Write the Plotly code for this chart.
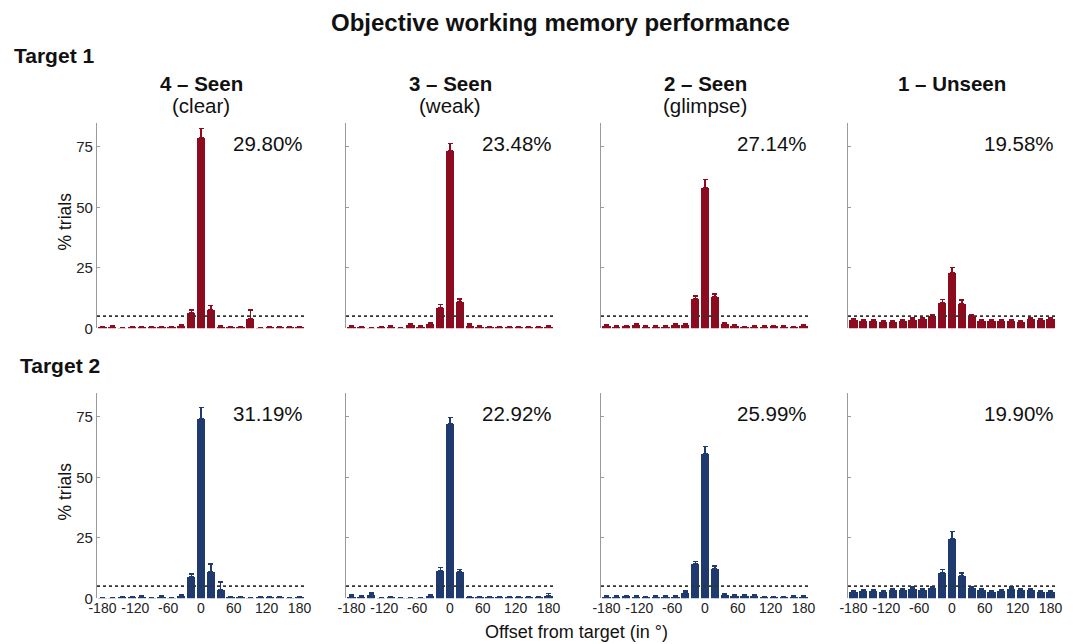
import plotly.graph_objects as go
from plotly.subplots import make_subplots

# ---------------- data ----------------
offsets = [-180, -162, -144, -126, -108, -90, -72, -54, -36, -18, 0,
           18, 36, 54, 72, 90, 108, 126, 144, 162, 180]

conditions = ["4 – Seen", "3 – Seen", "2 – Seen", "1 – Unseen"]
subtitles = ["(clear)", "(weak)", "(glimpse)", ""]
targets = ["Target 1", "Target 2"]

t1_clear = [0.5, 0.6, 0.2, 0.3, 0.5, 0.5, 0.5, 0.3, 1.0, 6.5, 78.9, 7.9, 0.6, 0.4, 0.3, 3.9, 0.2, 0.4, 0.3, 0.4, 0.4]
t1_weak = [0.6, 0.3, 0.2, 0.5, 0.6, 0.2, 1.4, 0.8, 1.8, 8.7, 73.4, 11.0, 1.2, 0.6, 0.3, 0.3, 0.3, 0.3, 0.3, 0.3, 0.6]
t1_glimpse = [1.3, 0.9, 1.0, 1.5, 0.6, 0.8, 0.9, 1.6, 1.5, 12.1, 58.3, 13.1, 1.8, 1.2, 0.5, 0.9, 0.8, 1.0, 0.9, 0.5, 1.2]
t1_unseen = [3.4, 3.3, 3.2, 2.6, 2.9, 3.2, 3.7, 4.0, 5.2, 10.7, 23.1, 10.3, 5.1, 3.3, 3.0, 3.0, 3.0, 2.8, 3.9, 3.6, 3.9]

t2_clear = [0.2, 0.2, 0.3, 0.5, 0.7, 0.2, 0.6, 0.2, 1.0, 9.0, 74.4, 10.9, 3.4, 0.3, 0.3, 0.2, 0.3, 0.5, 0.3, 0.2, 0.3]
t2_weak = [0.9, 0.7, 1.4, 0.2, 0.5, 0.2, 0.2, 0.2, 1.2, 11.6, 72.0, 10.9, 0.5, 0.5, 0.4, 0.3, 0.3, 0.3, 0.3, 0.3, 1.0]
t2_glimpse = [0.6, 0.9, 1.0, 0.6, 0.5, 0.8, 0.8, 0.8, 2.5, 14.2, 59.6, 12.4, 1.5, 1.1, 1.1, 1.3, 0.4, 0.5, 0.5, 0.6, 0.6]
t2_unseen = [2.8, 3.0, 3.2, 2.6, 3.6, 3.4, 3.9, 3.4, 4.5, 10.6, 24.8, 9.5, 4.4, 3.4, 2.6, 3.0, 3.9, 3.6, 3.4, 2.9, 2.9]

t1_clear_err = [0.3, 0.3, 0.2, 0.2, 0.3, 0.3, 0.3, 0.3, 0.4, 1.1, 3.7, 1.4, 0.3, 0.3, 0.2, 3.7, 0.2, 0.3, 0.2, 0.3, 0.3]
t1_weak_err = [0.3, 0.2, 0.2, 0.3, 0.3, 0.2, 0.5, 0.4, 0.5, 1.2, 3.0, 1.1, 0.6, 0.3, 0.2, 0.2, 0.2, 0.2, 0.2, 0.2, 0.3]
t1_glimpse_err = [0.3, 0.3, 0.3, 0.4, 0.3, 0.3, 0.3, 0.4, 0.4, 1.2, 3.3, 1.1, 0.4, 0.3, 0.2, 0.3, 0.3, 0.3, 0.3, 0.2, 0.3]
t1_unseen_err = [0.4, 0.4, 0.4, 0.4, 0.4, 0.4, 0.5, 0.5, 0.5, 1.2, 2.1, 1.4, 0.5, 0.4, 0.4, 0.4, 0.4, 0.4, 0.5, 0.4, 0.5]

t2_clear_err = [0.2, 0.2, 0.2, 0.3, 0.3, 0.2, 0.3, 0.2, 0.4, 1.1, 4.5, 3.3, 3.3, 0.2, 0.2, 0.2, 0.2, 0.3, 0.2, 0.2, 0.2]
t2_weak_err = [0.8, 0.4, 0.8, 0.2, 0.3, 0.2, 0.2, 0.2, 0.4, 1.2, 2.6, 1.1, 0.3, 0.3, 0.2, 0.2, 0.2, 0.2, 0.2, 0.2, 1.0]
t2_glimpse_err = [0.3, 0.3, 0.3, 0.3, 0.3, 0.3, 0.3, 0.3, 0.5, 1.1, 3.0, 1.0, 0.4, 0.3, 0.3, 0.4, 0.2, 0.2, 0.2, 0.3, 0.3]
t2_unseen_err = [0.4, 0.4, 0.4, 0.4, 0.5, 0.4, 0.8, 0.5, 0.5, 1.4, 2.8, 1.0, 0.5, 0.4, 0.4, 0.4, 0.8, 0.4, 0.4, 0.4, 0.4]

percent_labels_t1 = ["29.80%", "23.48%", "27.14%", "19.58%"]
percent_labels_t2 = ["31.19%", "22.92%", "25.99%", "19.90%"]

chance_level = 5
x_ticks = [-180, -120, -60, 0, 60, 120, 180]
x_tick_text = ["-180", "-120", "-60", "0", "60", "120", "180"]
y_ticks = [0, 25, 50, 75]

values = [[t1_clear, t1_weak, t1_glimpse, t1_unseen],
          [t2_clear, t2_weak, t2_glimpse, t2_unseen]]
errors = [[t1_clear_err, t1_weak_err, t1_glimpse_err, t1_unseen_err],
          [t2_clear_err, t2_weak_err, t2_glimpse_err, t2_unseen_err]]
percents = [percent_labels_t1, percent_labels_t2]

# ---------------- style ----------------
PAGE_W, PAGE_H = 1073, 644
OFF = 8  # browser body margin
W, H = PAGE_W - OFF, PAGE_H - OFF
FONT = "Liberation Sans, Arial, Helvetica, sans-serif"
colors = ["#8C0B1F", "#1E3A6E"]
col_px = [(97, 305), (346, 554), (601, 809), (848, 1056)]
row_px = [(122.6, 328.3), (392.6, 598.3)]  # top, bottom (page pixels from top)


def px(xp):
    return (xp - OFF) / W


def py(yp):
    return (H - (yp - OFF)) / H


fig = make_subplots(rows=2, cols=4)

for r in range(2):
    for c in range(4):
        fig.add_trace(go.Bar(
            x=offsets, y=values[r][c], width=15,
            marker=dict(color=colors[r], line=dict(width=0)),
            error_y=dict(type="data", array=errors[r][c],
                         arrayminus=[0] * len(offsets), symmetric=False,
                         color=colors[r], thickness=1.3, width=2.5),
            showlegend=False, hoverinfo="x+y"),
            row=r + 1, col=c + 1)

layout_axes = {}
annotations = []
shapes = []
for r in range(2):
    for c in range(4):
        idx = r * 4 + c + 1
        xname = "xaxis" if idx == 1 else f"xaxis{idx}"
        yname = "yaxis" if idx == 1 else f"yaxis{idx}"
        xref = "x" if idx == 1 else f"x{idx}"
        yref = "y" if idx == 1 else f"y{idx}"
        x0, x1 = col_px[c]
        top, bot = row_px[r]
        layout_axes[xname] = dict(
            domain=[px(x0), px(x1)], range=[-190, 190],
            showline=False, showgrid=False, zeroline=False, ticks="",
            tickvals=x_ticks, ticktext=x_tick_text,
            showticklabels=(r == 1), tickangle=0, automargin=False,
            tickfont=dict(size=14, color="#222", family=FONT))
        layout_axes[yname] = dict(
            domain=[py(bot), py(top)], range=[0, 85],
            showline=True, linecolor="#9a9a9a", linewidth=1.2,
            showgrid=False, zeroline=False, automargin=False,
            tickvals=y_ticks, ticks="inside", ticklen=3, tickcolor="#9a9a9a",
            showticklabels=(c == 0),
            tickfont=dict(size=15, color="#222", family=FONT))
        shapes.append(dict(type="line", xref=xref, yref=yref,
                           x0=-190, x1=190, y0=chance_level, y1=chance_level,
                           line=dict(color="#333", width=1.8, dash="dot")))
        annotations.append(dict(
            xref=xref, yref="paper", x=190, y=py(top + 20.5),
            text=percents[r][c], showarrow=False, xanchor="right",
            yanchor="middle", font=dict(size=20.5, color="#111", family=FONT)))

# column headers
for c in range(4):
    xref = "x" if c == 0 else f"x{c + 1}"
    annotations.append(dict(xref=xref, yref="paper", x=0, y=py(83),
                            text=f"<b>{conditions[c]}</b>", showarrow=False,
                            xanchor="center", yanchor="middle",
                            font=dict(size=20.5, color="#111", family=FONT)))
    if subtitles[c]:
        annotations.append(dict(xref=xref, yref="paper", x=0, y=py(106),
                                text=subtitles[c], showarrow=False,
                                xanchor="center", yanchor="middle",
                                font=dict(size=20.5, color="#111", family=FONT)))

# row labels
annotations.append(dict(xref="paper", yref="paper", x=px(12), y=py(55),
                        text=f"<b>{targets[0]}</b>", showarrow=False,
                        xanchor="left", yanchor="middle",
                        font=dict(size=21, color="#111", family=FONT)))
annotations.append(dict(xref="paper", yref="paper", x=px(18), y=py(365),
                        text=f"<b>{targets[1]}</b>", showarrow=False,
                        xanchor="left", yanchor="middle",
                        font=dict(size=21, color="#111", family=FONT)))

# y titles
for r in range(2):
    top, bot = row_px[r]
    annotations.append(dict(xref="paper", yref="paper", x=px(65),
                            y=py((top + bot) / 2 - 4),
                            text="% trials", showarrow=False, textangle=-90,
                            xanchor="center", yanchor="middle",
                            font=dict(size=17.5, color="#111", family=FONT)))

# x title
annotations.append(dict(xref="paper", yref="paper", x=px(576), y=py(632),
                        text="Offset from target (in °)", showarrow=False,
                        xanchor="center", yanchor="middle",
                        font=dict(size=18, color="#111", family=FONT)))

# main title
annotations.append(dict(xref="paper", yref="paper", x=px(560), y=1.0,
                        text="<b>Objective working memory performance</b>",
                        showarrow=False, xanchor="center", yanchor="top",
                        borderpad=0,
                        font=dict(size=24, color="#111", family=FONT)))

fig.update_layout(
    width=W, height=H, autosize=False,
    margin=dict(l=0, r=0, t=0, b=0),
    paper_bgcolor="white", plot_bgcolor="white",
    bargap=0, annotations=annotations, shapes=shapes,
    font=dict(family=FONT, color="#111"),
    **layout_axes)

fig.write_html("out.html")
